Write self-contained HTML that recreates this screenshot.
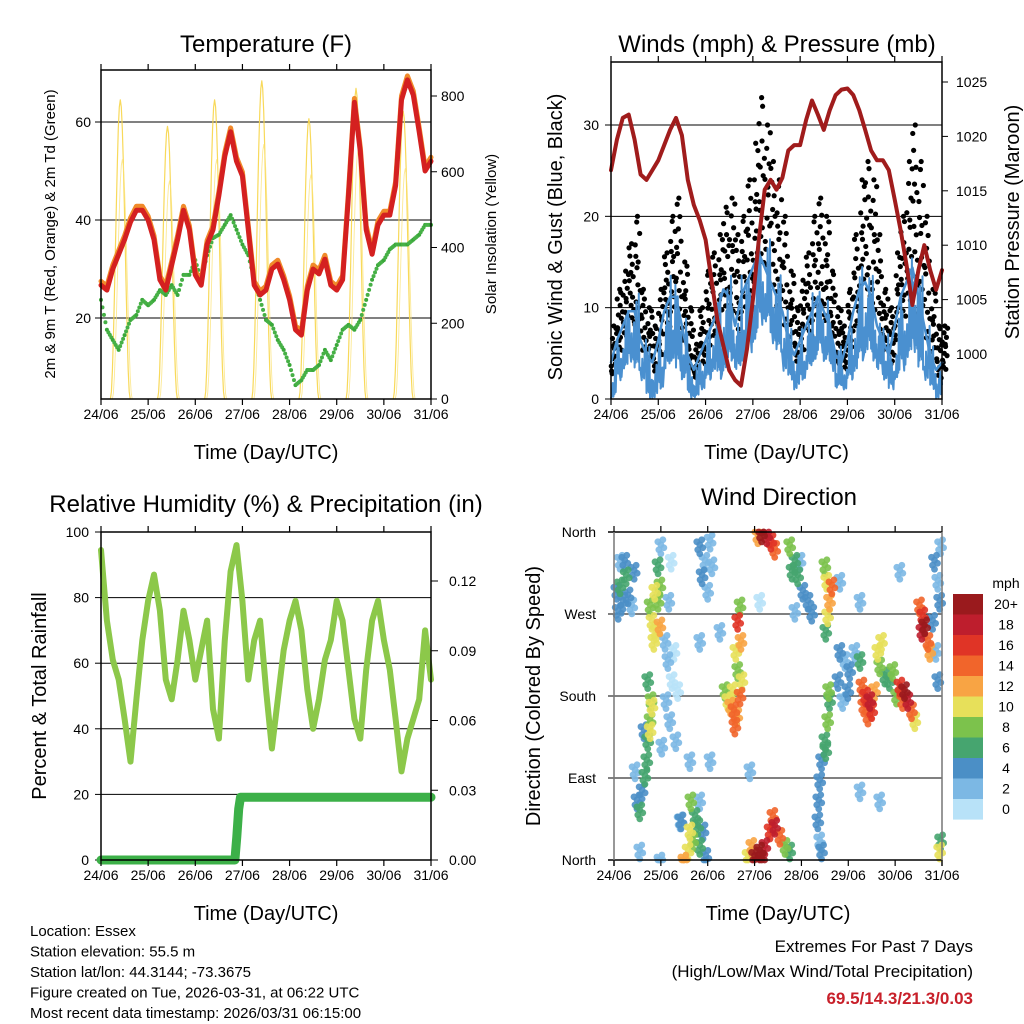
<!DOCTYPE html>
<html><head><meta charset="utf-8">
<style>
html,body{margin:0;padding:0;background:#fff;}
svg{display:block;font-family:"Liberation Sans",sans-serif;}
</style></head>
<body>
<svg id="s" width="1024" height="1024" viewBox="0 0 1024 1024"></svg>
<script>
// ---------- data ----------
const dayLabels = ["24/06","25/06","26/06","27/06","28/06","29/06","30/06","31/06"];
const tempRed = [26.7,25.7,30,33,36,39.6,42,42,40,36,27.8,25.7,30.8,36,42,38,28.8,26.7,35,38,45,53,58,52,49,38,26.7,24.7,25.7,30,31,27.8,23.7,17.6,16.5,25.7,30,29,32,26.7,25.7,27.8,45,64,54,38,33,39,41,41,47,64.5,68.6,65.5,58,50,52];
const dewGreen = [23.7,17.6,15.5,13.5,16.5,19.6,20.6,23.7,22.6,23.7,25.7,24.7,26.7,24.7,28.8,28.8,31.8,27.8,32.8,36.3,37,39,41,38,35,32.8,27.8,23.7,19.6,18.6,15.5,13.5,10.4,6.3,7.3,9.4,9.4,10.4,13.5,11.4,14.5,17.6,18.6,17.6,19.6,23.7,27.8,30.8,31.8,34,35,35,35,36,37,39,39];
const solarPeak = [790,720,790,840,740,820,760];
const pressure = [1016.9,1019.7,1021.7,1022,1019.7,1016.5,1016,1016.9,1017.8,1019.2,1020.6,1021.7,1020.1,1016,1013.7,1012.3,1010.5,1006.8,1003.1,1000.8,998.5,997.6,997.1,1000.4,1005,1010.5,1015.1,1016,1015.1,1016.2,1018.7,1019.2,1019.2,1021.5,1023.3,1022,1020.6,1022.4,1023.8,1024.3,1024.4,1023.8,1022.4,1020.6,1018.7,1017.8,1017.8,1016.9,1014.2,1011.4,1008.2,1004.5,1007.7,1010,1007.7,1005.9,1007.7];
const windMin = [0,2,3,4,3,2,0,0,1,3,4,3,2,0,0,1,2,3,2,3,4,3,4,5,6,8,8,6,5,3,2,1,2,3,4,5,4,3,1,1,2,3,4,5,4,3,2,1,2,3,4,5,3,2,1,0,1];
const windMax = [5,8,10,12,12,8,6,5,8,12,14,14,10,6,4,6,8,10,12,15,14,10,14,16,18,20,18,16,14,12,8,6,8,10,12,14,12,10,6,5,8,12,15,16,14,10,8,6,10,14,16,18,14,10,6,4,5];
const gustMax = [8,12,14,17,20,12,10,8,12,16,20,22,15,10,6,10,14,16,18,21,22,18,20,24,28,33,30,26,24,20,14,10,13,16,20,22,20,14,10,8,12,18,24,26,24,18,12,10,16,20,26,30,26,20,12,8,8];
const rhVals = [94.5,73,61,55,43,30,49,67,79,87,76,55,49,61,76,67,55,64,73,46,37,67,88,96,79,55,67,73,52,34,49,64,73,79,70,52,40,49,61,67,79,73,58,43,37,58,73,79,67,58,43,27,37,43,49,70,55];
const precipDays = [0,2.84,2.88,2.92,2.96,7];
const precipVals = [0,0,0.010,0.022,0.027,0.027];
const dirDay = [0.06,0.13,0.19,0.26,0.30,0.09,0.38,0.13,0.43,0.23, 0.72,0.79,0.77,0.72,0.70,0.66,0.60,0.55,0.77,0.81,0.49,0.64,0.45, 0.87,0.94,0.98,0.81,0.90,0.77,0.98,0.85,0.94, 1.09,1.15,1.24,1.11,1.28,1.19,1.32,1.02,1.36,1.17,1.22,1.00, 1.62,1.68,1.73,1.58,1.79,1.83,1.49,1.90,1.96,1.64,1.43, 1.83,1.94,2.05,1.88,2.09,2.0, 2.37,2.43,2.49,2.56,2.62,2.54,2.69,2.64,2.73,2.58, 2.64,2.71,2.60,2.69, 3.0,3.11,3.22,3.33,3.43,3.54,2.94,2.86,3.65,3.75,3.39,3.15, 3.15,3.26,3.35,3.07,3.43, 3.75,3.86,3.92,4.03,4.14,4.22,3.80,3.97, 4.5,4.54,4.6,4.56,4.65,4.52, 4.6,4.56,4.50,4.43,4.39,4.37,4.35,4.39,4.43,4.58,4.52, 4.82,4.93,5.03,4.78,5.14,4.99,5.25,4.88, 5.29,5.37,5.46,5.50,5.42,5.56,5.33, 5.63,5.67,5.78,5.88,5.95,5.71, 6.10,6.2,6.27,6.35,6.42,6.16,6.03, 6.52,6.59,6.63,6.7,6.74,6.57, 6.84,6.91,6.95,6.8,6.87,6.97,6.91, 6.95,6.97, 0.55,0.98,1.83,2.26,1.62,2.9,3.11,5.25,5.25,5.67,3.86,4.82,6.10,1.83,2.05,1.41];
const dirDeg = [296,302,285,313,291,274,280,329,318,329, 198,176,154,132,110,93,77,55,143,170,66,143,99, 296,285,302,263,252,280,258,241,324, 241,220,198,176,230,154,132,126,187,285,329,346, 33,22,49,11,38,16,0,33,5,66,44, 346,329,351,313,324,296, 187,176,170,165,159,187,181,209,198,148, 263,241,230,280, 5,11,16,33,38,27,16,5,16,11,49,2, 359,357,351,357,342, 346,329,313,296,285,272,318,329, 324,307,285,269,302,252, 176,154,132,110,88,66,44,22,11,187,121, 230,220,209,198,230,187,220,176, 192,181,176,165,159,187,170, 230,214,203,198,209,241, 192,187,176,165,154,176,181, 280,269,258,241,230,252, 329,307,285,263,230,346,198, 11,22, 11,0,241,252,110,99,285,285,77,66,274,307,318,66,110,44];
const dirSpd = [5,6,4,6,5,4,3,3,4,4, 7,9,8,7,6,6,5,6,10,10,4,4,3, 10,9,8,10,11,8,12,10,7, 2,2,1,2,1,2,3,2,1,2,1,2, 10,9,7,11,6,7,12,5,4,8,4, 4,3,2,4,3,2, 8,10,12,14,13,11,15,8,10,14, 16,12,10,8, 20,20,18,16,18,14,12,10,8,6,14,20, 20,18,16,12,14, 8,7,6,5,4,4,6,3, 8,10,12,10,14,6, 6,8,6,5,4,4,4,3,4,8,6, 4,3,4,4,2,4,6,3, 14,16,18,16,14,12,15, 10,9,6,7,8,10, 16,20,18,14,10,15,8, 14,16,20,14,12,18, 4,3,4,4,3,2,4, 10,6, 2,3,2,2,2,2,1,2,2,2,3,2,3,3,2,2];
const cbLabels = ["20+","18","16","14","12","10","8","6","4","2","0"];
const cbColors = ["#9a1a1d","#be1e2d","#e03426","#f1652b","#f8a444","#e7e05a","#7cc24c","#46a56f","#4b8fc6","#7cb8e4","#b8e2f8"];

// ---------- helpers ----------
const NS="http://www.w3.org/2000/svg";
const svg=document.getElementById('s');
function mk(tag,attrs,parent){const e=document.createElementNS(NS,tag);for(const k in attrs)e.setAttribute(k,attrs[k]);(parent||svg).appendChild(e);return e;}
function txt(x,y,s,size,anchor,extra,parent){const e=mk('text',Object.assign({x:x,y:y,'font-size':size,'text-anchor':anchor||'middle',fill:'#000'},extra||{}),parent);e.textContent=s;return e;}
function lin(d0,d1,p0,p1){return v=>p0+(v-d0)/(d1-d0)*(p1-p0);}
const step=0.125;
// deterministic jitter pattern (visual texture only)
const jit=[0.1,0.85,0.4,0.65,0.25,0.95,0.55,0.05,0.75,0.35,0.6,0.2];

function frame(x0,y0,x1,y1,name){
  const r=mk('rect',{x:x0,y:y0,width:x1-x0,height:y1-y0,fill:'none',stroke:'#000','stroke-width':1.5});
  
  
}
function xAxis(x0,x1,y0,y1,name){
  const X=lin(0,7,x0,x1);
  dayLabels.forEach((l,i)=>{
    mk('line',{x1:X(i),x2:X(i),y1:y1,y2:y1+6,stroke:'#000','stroke-width':1.2});
    mk('line',{x1:X(i),x2:X(i),y1:y0,y2:y0-6,stroke:'#000','stroke-width':1.2});
    const t=txt(X(i),y1+20,l,14);
    
    
  });
  const t=txt((x0+x1)/2,y1+60,'Time (Day/UTC)',20);
  
  
  return X;
}
function polyline(pts,color,w,name,op,parent){
  const p=mk('polyline',{points:pts.map(q=>q[0].toFixed(1)+','+q[1].toFixed(1)).join(' '),fill:'none',stroke:color,'stroke-width':w,'stroke-linejoin':'round','stroke-linecap':'round',opacity:op||1},parent);
  
  
  return p;
}

// ===== Panel 1: Temperature =====
(function(){
  const x0=101,x1=431,y0=70,y1=399;
  const X=lin(0,7,x0,x1), Y=lin(20,60,318,122), YS=lin(0,800,399,96);
  [20,40,60].forEach(v=>{mk('line',{x1:x0,x2:x1,y1:Y(v),y2:Y(v),stroke:'#000','stroke-width':1});
    mk('line',{x1:x0-6,x2:x0,y1:Y(v),y2:Y(v),stroke:'#000'});
    const t=txt(x0-10,Y(v)+5,String(v),14,'end');});
  [0,200,400,600,800].forEach(v=>{mk('line',{x1:x1,x2:x1+6,y1:YS(v),y2:YS(v),stroke:'#000'});
    const t=txt(x1+10,YS(v)+5,String(v),14,'start');});
  const g=mk('g',{});
  
  
  solarPeak.forEach((pk,i)=>{
    const pts=[];
    for(let k=0;k<=20;k++){const f=k/20;const d=i+0.2+f*0.42;const s=Math.sin(Math.PI*f);pts.push([X(d),YS(pk*s*s)]);}
    polyline(pts,'#f7d548',1.2,'solar-day-'+i,0.9,g);
    const pts2=pts.map((q,k)=>[q[0]+2,YS(pk*0.8*Math.pow(Math.sin(Math.PI*k/20),2))]);
    polyline(pts2,'#fbe37a',0.9,'solar-day-'+i+'-alt',0.8,g);
  });
  const dg=mk('g',{});
  
  
  dewGreen.forEach((v,i)=>{
    mk('circle',{cx:X(i*step),cy:Y(v),r:2,fill:'#3aa83a'},dg);
    if(i<dewGreen.length-1){const n=dewGreen[i+1];for(let k=1;k<4;k++){mk('circle',{cx:X((i+k/4)*step),cy:Y(v+(n-v)*k/4),r:2,fill:'#46b046'},dg);}}
  });
  polyline(tempRed.map((v,i)=>[X(i*step),Y(v+0.8)]),'#f08a2a',5,'temp-9m-orange-line');
  polyline(tempRed.map((v,i)=>[X(i*step),Y(v)]),'#d42020',5,'temp-2m-red-line');
  frame(x0,y0,x1,y1,'temp');
  xAxis(x0,x1,y0,y1,'temp');
  let t=txt(266,52,'Temperature (F)',24);
  t=txt(0,0,'2m & 9m T (Red, Orange) & 2m Td (Green)',15,'middle',{transform:'translate(55,234) rotate(-90)'});
  t=txt(0,0,'Solar Insolation (Yellow)',15,'middle',{transform:'translate(496,234) rotate(-90)'});
})();

// ===== Panel 2: Winds =====
(function(){
  const x0=611,x1=942,y0=62,y1=399;
  const X=lin(0,7,x0,x1), Y=lin(0,30,399,125), YP=lin(1000,1025,354,82);
  [10,20,30].forEach(v=>mk('line',{x1:x0,x2:x1,y1:Y(v),y2:Y(v),stroke:'#000','stroke-width':1}));
  [0,10,20,30].forEach(v=>{mk('line',{x1:x0-6,x2:x0,y1:Y(v),y2:Y(v),stroke:'#000'});
    const t=txt(x0-12,Y(v)+5,String(v),14,'end');});
  [1000,1005,1010,1015,1020,1025].forEach(v=>{mk('line',{x1:x1,x2:x1+6,y1:YP(v),y2:YP(v),stroke:'#000'});
    const t=txt(x1+14,YP(v)+5,String(v),14,'start');});
  const gg=mk('g',{});
  
  
  gustMax.forEach((v,i)=>{
    const d=i*step;
    for(let k=0;k<12;k++){
      const dd=d+jit[(k*5+i)%12]*step;
      const lo=windMin[i]+0.5*(windMax[i]-windMin[i]);
      const val=lo+(v-lo)*jit[(k+i*7)%12];
      mk('circle',{cx:X(dd),cy:Y(val),r:2.6,fill:'#000'},gg);
    }
    mk('circle',{cx:X(d+0.06),cy:Y(v),r:2.6,fill:'#000'},gg);
  });
  const bg=mk('g',{});
  
  
  const zz=[];
  windMax.forEach((v,i)=>{
    for(let k=0;k<10;k++){
      const dd=i*step+k*step/10;
      if(i===windMax.length-1&&k>0)break;
      const hi=windMin[i]+(v-windMin[i])*jit[(k*7+i)%12];
      zz.push([X(dd),Y(k%2?hi:windMin[i]+(v-windMin[i])*0.2*jit[(k+i)%12])]);
    }
  });
  polyline(zz,'#4a90d0',2,'wind-line',1,bg);
  polyline(windMax.map((v,i)=>[X(i*step),Y(v*0.8)]),'#4a90d0',2.5,'wind-upper',1,bg);
  polyline(pressure.map((v,i)=>[X(i*step),YP(v)]),'#a01c1c',4,'pressure-line');
  frame(x0,y0,x1,y1,'winds');
  xAxis(x0,x1,y0,y1,'winds');
  let t=txt(777,52,'Winds (mph) & Pressure (mb)',24);
  t=txt(0,0,'Sonic Wind & Gust (Blue, Black)',20,'middle',{transform:'translate(562,237) rotate(-90)'});
  t=txt(0,0,'Station Pressure (Maroon)',20,'middle',{transform:'translate(1019,222) rotate(-90)'});
})();

// ===== Panel 3: RH =====
(function(){
  const x0=101,x1=431,y0=532,y1=860;
  const X=lin(0,7,x0,x1), Y=lin(0,100,860,532), YR=lin(0,0.12,860,581);
  [20,40,60,80].forEach(v=>mk('line',{x1:x0,x2:x1,y1:Y(v),y2:Y(v),stroke:'#000','stroke-width':1}));
  [0,20,40,60,80,100].forEach(v=>{mk('line',{x1:x0-6,x2:x0,y1:Y(v),y2:Y(v),stroke:'#000'});
    const t=txt(x0-12,Y(v)+5,String(v),14,'end');});
  [0,0.03,0.06,0.09,0.12].forEach(v=>{mk('line',{x1:x1,x2:x1+7,y1:YR(v),y2:YR(v),stroke:'#000'});
    const t=txt(x1+18,YR(v)+5,v.toFixed(2),14,'start');});
  polyline(rhVals.map((v,i)=>[X(i*step),Y(v)]),'#8cc84a',6,'rh-line');
  polyline(precipDays.map((d,i)=>[X(d),YR(precipVals[i])]),'#3cb048',9,'precip-line');
  frame(x0,y0,x1,y1,'rh');
  xAxis(x0,x1,y0,y1,'rh');
  let t=txt(266,512,'Relative Humidity (%) & Precipitation (in)',24);
  t=txt(0,0,'Percent & Total Rainfall',20,'middle',{transform:'translate(46,696) rotate(-90)'});
})();

// ===== Panel 4: Wind Direction =====
(function(){
  const x0=614,x1=942,y0=532,y1=860;
  const X=lin(0,7,x0,x1), Y=lin(0,360,860,532);
  [90,180,270].forEach(v=>mk('line',{x1:x0-6,x2:x1,y1:Y(v),y2:Y(v),stroke:'#000','stroke-width':1}));
  ['North','East','South','West','North'].forEach((l,i)=>{
    const t=txt(x0-18,Y(i*90)+5,l,14,'end');});
  const g=mk('g',{});
  
  
  function col(s){const idx=Math.min(10,Math.floor(s/2));return cbColors[10-idx];}
  const order=dirSpd.map((s,i)=>i).sort((a,b)=>dirSpd[a]-dirSpd[b]);
  const offs=[[0,0],[2,-5],[-2,5],[3,3],[-3,-3],[0,9]];
  order.forEach(i=>{
    offs.forEach(o=>{
      mk('circle',{cx:X(dirDay[i])+o[0],cy:Math.min(y1,Math.max(y0,Y(dirDeg[i])+o[1])),r:3.4,fill:col(dirSpd[i]),opacity:0.9},g);
    });
  });
  mk('line',{x1:x0-6,x2:x1,y1:y0,y2:y0,stroke:'#000','stroke-width':1.5});
  mk('line',{x1:x0-6,x2:x1,y1:y1,y2:y1,stroke:'#000','stroke-width':1.5});
  mk('line',{x1:x0,x2:x0,y1:y0,y2:y1+6,stroke:'#777','stroke-width':1.5});
  mk('line',{x1:x1,x2:x1,y1:y0,y2:y1+6,stroke:'#777','stroke-width':1.5});
  xAxis(x0,x1,y0,y1,'direction');
  let t=txt(779,505,'Wind Direction',24);
  t=txt(0,0,'Direction (Colored By Speed)',20,'middle',{transform:'translate(540,696) rotate(-90)'});
  const cb=mk('g',{});
  
  
  cbColors.forEach((c,i)=>{mk('rect',{x:953,y:594+i*20.5,width:30,height:20.6,fill:c},cb);
    const l=txt(1006,604+i*20.5+5,cbLabels[i],14,'middle',{},cb);});
  t=txt(1006,588,'mph',14);
})();

// ===== footer =====
['Location: Essex','Station elevation: 55.5 m','Station lat/lon: 44.3144; -73.3675','Figure created on Tue, 2026-03-31, at 06:22 UTC','Most recent data timestamp: 2026/03/31 06:15:00'].forEach((s,i)=>{
  const t=txt(30,936+i*20.5,s,15,'start');});
let ft=txt(973,952,'Extremes For Past 7 Days',17,'end');
ft=txt(973,977,'(High/Low/Max Wind/Total Precipitation)',17,'end');
ft=txt(973,1004,'69.5/14.3/21.3/0.03',17,'end',{'font-weight':'bold',fill:'#c8202a'});
</script>
</body></html>
